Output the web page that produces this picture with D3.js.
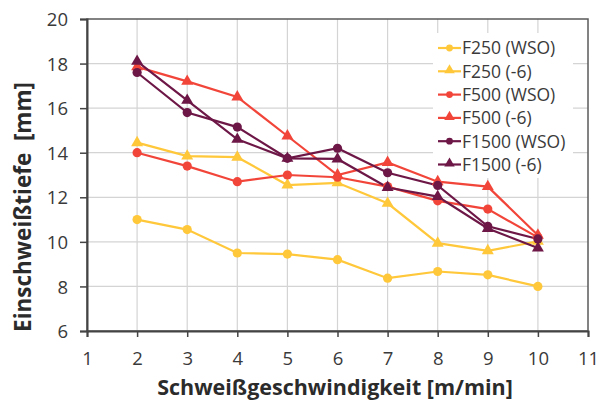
<!DOCTYPE html>
<html>
<head>
<meta charset="utf-8">
<script src="https://cdn.jsdelivr.net/npm/d3@7"></script>
<style>
  body { margin: 0; background: #fff; }
  text { font-family: "Open Sans", sans-serif; }
</style>
</head>
<body>
<div id="chart"></div>
<script>
// data
const speeds = [2, 3, 4, 5, 6, 7, 8, 9, 10];
const seriesNames = ['F250 (WSO)', 'F250 (-6)', 'F500 (WSO)', 'F500 (-6)', 'F1500 (WSO)', 'F1500 (-6)'];
const f250wso = [11.0, 10.55, 9.5, 9.45, 9.2, 8.37, 8.67, 8.52, 8.0];
const f250m6 = [14.45, 13.85, 13.8, 12.55, 12.65, 11.73, 9.94, 9.6, 10.02];
const f500wso = [14.0, 13.4, 12.7, 13.0, 12.9, 12.48, 11.84, 11.47, 10.2];
const f500m6 = [17.85, 17.2, 16.5, 14.75, 13.0, 13.56, 12.7, 12.48, 10.3];
const f1500wso = [17.6, 15.8, 15.15, 13.75, 14.2, 13.1, 12.53, 10.7, 10.13];
const f1500m6 = [18.1, 16.35, 14.6, 13.75, 13.72, 12.44, 12.03, 10.6, 9.72];
const xTicks = [1, 2, 3, 4, 5, 6, 7, 8, 9, 10, 11];
const yTicks = [6, 8, 10, 12, 14, 16, 18, 20];

const yellow = '#ffc73a', red = '#f2453a', purple = '#6d1747';
const series = [
    { name: seriesNames[0], values: f250wso, color: yellow, shape: 'circle' },
    { name: seriesNames[1], values: f250m6, color: yellow, shape: 'triangle' },
    { name: seriesNames[2], values: f500wso, color: red, shape: 'circle' },
    { name: seriesNames[3], values: f500m6, color: red, shape: 'triangle' },
    { name: seriesNames[4], values: f1500wso, color: purple, shape: 'circle' },
    { name: seriesNames[5], values: f1500m6, color: purple, shape: 'triangle' }
];

let margin = { top: 19, left: 87, right: 11, bottom: 72 },
    width = 599 - margin.left - margin.right,
    height = 403 - margin.top - margin.bottom;

let svg = d3.select('#chart').append('svg')
    .attr('width', 599)
    .attr('height', 403);

let g = svg.append('g')
    .attr('transform', 'translate(' + margin.left + ',' + margin.top + ')');

let xScale = d3.scaleLinear().domain([1, 11]).range([0, width]);
let yScale = d3.scaleLinear().domain([6, 20]).range([height, 0]);

// grid
g.append('g').selectAll('line')
    .data(xTicks.slice(1, -1))
    .enter().append('line')
    .attr('x1', d => xScale(d)).attr('x2', d => xScale(d))
    .attr('y1', 0).attr('y2', height)
    .attr('stroke', '#d4d4d4').attr('stroke-width', 1.2);

g.append('g').selectAll('line')
    .data(yTicks.slice(1, -1))
    .enter().append('line')
    .attr('y1', d => yScale(d)).attr('y2', d => yScale(d))
    .attr('x1', 0).attr('x2', width)
    .attr('stroke', '#d4d4d4').attr('stroke-width', 1.2);

// frame
g.append('rect')
    .attr('width', width).attr('height', height)
    .attr('fill', 'none').attr('stroke', '#5a5a5a').attr('stroke-width', 1.5);

// axes
let xAxis = g.append('g')
    .attr('transform', 'translate(0,' + height + ')')
    .call(d3.axisBottom(xScale).tickValues(xTicks).tickSize(6).tickPadding(15));
let yAxis = g.append('g')
    .call(d3.axisLeft(yScale).tickValues(yTicks).tickSize(7).tickPadding(12));

[xAxis, yAxis].forEach(a => {
    a.select('.domain').attr('stroke', '#444').attr('stroke-width', 2);
    a.selectAll('.tick line').attr('stroke', '#444').attr('stroke-width', 1.5);
    a.selectAll('.tick text')
        .attr('fill', '#3a3a3a')
        .style('font-size', '18.5px')
        .style('font-family', '"Open Sans", sans-serif');
});
yAxis.selectAll('.tick text').attr('dy', '0.36em');

// axis titles
svg.append('text')
    .attr('x', 335)
    .attr('y', 395)
    .attr('text-anchor', 'middle')
    .attr('fill', '#2b2b2b')
    .style('font-size', '21.5px')
    .style('font-weight', 'bold')
    .text('Schweißgeschwindigkeit [m/min]');

svg.append('text')
    .attr('transform', 'translate(31,207) rotate(-90)')
    .attr('text-anchor', 'middle')
    .attr('fill', '#2b2b2b')
    .style('font-size', '22.5px')
    .style('font-weight', 'bold')
    .style('white-space', 'pre')
    .text('Einschweißtiefe  [mm]');

// legend background (hides grid under it)
let legend = g.append('g')
    .attr('transform', 'translate(' + (433 - margin.left) + ',' + (33 - margin.top) + ')');
legend.append('rect')
    .attr('width', 140).attr('height', 145)
    .attr('fill', '#fff');

// lines
let line = d3.line()
    .x((d, i) => xScale(speeds[i]))
    .y(d => yScale(d));

let triangle = d3.symbol().type(d3.symbolTriangle).size(62);
let triangleSmall = d3.symbol().type(d3.symbolTriangle).size(48);

series.forEach(s => {
    g.append('path')
        .datum(s.values)
        .attr('d', line)
        .attr('fill', 'none')
        .attr('stroke', s.color)
        .attr('stroke-width', 2.2);
});

series.forEach(s => {
    let pts = g.append('g').selectAll('.pt')
        .data(s.values)
        .enter();
    if (s.shape === 'circle') {
        pts.append('circle')
            .attr('cx', (d, i) => xScale(speeds[i]))
            .attr('cy', d => yScale(d))
            .attr('r', 4.6)
            .attr('fill', s.color);
    } else {
        pts.append('path')
            .attr('d', triangle)
            .attr('transform', (d, i) => 'translate(' + xScale(speeds[i]) + ',' + yScale(d) + ')')
            .attr('fill', s.color);
    }
});

// legend entries
let items = legend.selectAll('.item')
    .data(series)
    .enter().append('g')
    .attr('transform', (d, i) => 'translate(0,' + (15 + i * 23.3) + ')');

items.append('line')
    .attr('x1', 5).attr('x2', 28)
    .attr('stroke', d => d.color).attr('stroke-width', 2.2);

items.each(function (d) {
    let it = d3.select(this);
    if (d.shape === 'circle') {
        it.append('circle').attr('cx', 16.5).attr('cy', 0).attr('r', 3.4).attr('fill', d.color);
    } else {
        it.append('path').attr('d', triangleSmall)
            .attr('transform', 'translate(16.5,-1)').attr('fill', d.color);
    }
});

items.append('text')
    .attr('x', 29)
    .attr('dy', '0.36em')
    .attr('fill', '#3a3a3a')
    .style('font-size', '17.5px')
    .text(d => d.name);
</script>
</body>
</html>
